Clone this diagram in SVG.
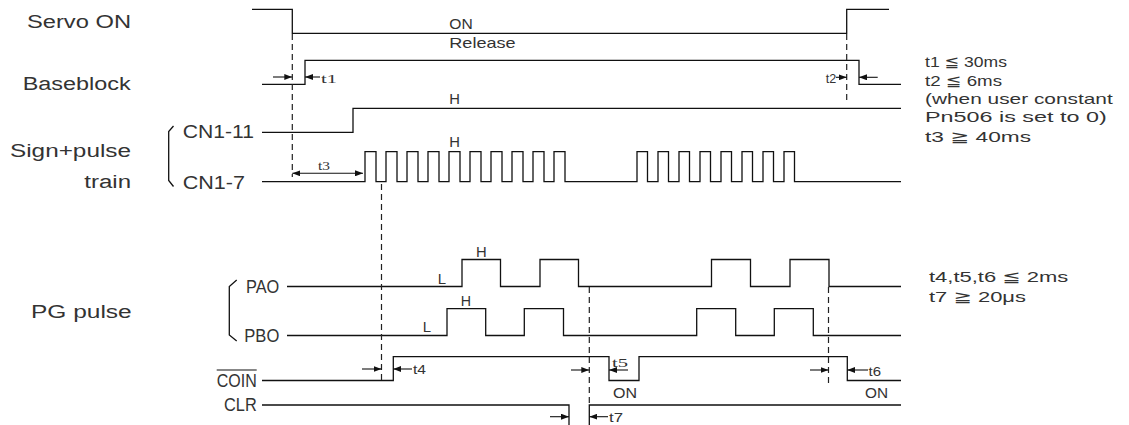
<svg xmlns="http://www.w3.org/2000/svg" width="1129" height="425" viewBox="0 0 1129 425">
<style>
.w{fill:none;stroke:#111;stroke-width:1.3}
.d{fill:none;stroke:#222;stroke-width:1.2;stroke-dasharray:6,4}
.a{fill:none;stroke:#111;stroke-width:1.1}
.lb{font-family:"Liberation Sans","DejaVu Sans",sans-serif;font-size:18px;fill:#333}
.sm{font-family:"Liberation Sans","DejaVu Sans",sans-serif;font-size:15px;fill:#333}
.tl{font-family:"Liberation Serif","DejaVu Serif",serif;font-size:13px;fill:#333}
.ts{font-family:"Liberation Sans","DejaVu Sans",sans-serif;font-size:13px;fill:#333}
</style>
<defs>
<marker id="ah" viewBox="0 0 8 6" refX="8" refY="3" markerWidth="8" markerHeight="6" markerUnits="userSpaceOnUse" orient="auto">
<path d="M0,0 L8,3 L0,6 Z" fill="#111"/>
</marker>
<marker id="ahs" viewBox="0 0 8 6" refX="0" refY="3" markerWidth="8" markerHeight="6" markerUnits="userSpaceOnUse" orient="auto">
<path d="M8,0 L0,3 L8,6 Z" fill="#111"/>
</marker>
</defs>
<rect width="1129" height="425" fill="#fff"/>

<g id="labels">
<text class="lb" x="27" y="28" textLength="104" lengthAdjust="spacingAndGlyphs">Servo ON</text>
<text class="lb" x="22.7" y="90" textLength="108" lengthAdjust="spacingAndGlyphs">Baseblock</text>
<text class="lb" x="10" y="156.5" textLength="121" lengthAdjust="spacingAndGlyphs">Sign+pulse</text>
<text class="lb" x="84.3" y="188" textLength="46.7" lengthAdjust="spacingAndGlyphs">train</text>
<text class="lb" x="31" y="317.5" textLength="100.7" lengthAdjust="spacingAndGlyphs">PG pulse</text>
</g>

<g id="servo-on">
<path class="w" d="M252,9.3 H292.3 V33.3 H846.7 V9.3 H889"/>
<text class="sm" x="449.3" y="29.3" textLength="23.4" lengthAdjust="spacingAndGlyphs">ON</text>
</g>

<g id="baseblock">
<path class="w" d="M262,84.3 H305 V60.3 H859 V84.3 H901"/>
<text class="sm" x="449.3" y="48" textLength="66.4" lengthAdjust="spacingAndGlyphs">Release</text>
</g>

<g id="cn1-11">
<path class="w" d="M173.5,126 L168.7,131.5 V180.5 L173.5,186.5"/>
<text class="lb" x="182.7" y="138.3" textLength="71.3" lengthAdjust="spacingAndGlyphs">CN1-11</text>
<path class="w" d="M262,132.3 H353 V108.3 H901"/>
<text class="sm" x="449.3" y="104.3" textLength="10.7" lengthAdjust="spacingAndGlyphs">H</text>
</g>

<g id="cn1-7">
<text class="lb" x="182.7" y="189" textLength="62.3" lengthAdjust="spacingAndGlyphs">CN1-7</text>
<path class="w" d="M262,181.7 H365 V151.7 H376 V181.7 H386 V151.7 H397 V181.7 H407 V151.7 H418 V181.7 H428 V151.7 H439 V181.7 H449 V151.7 H460 V181.7 H470 V151.7 H481 V181.7 H491 V151.7 H502 V181.7 H512 V151.7 H523 V181.7 H533 V151.7 H544 V181.7 H554 V151.7 H565 V181.7 H637 V151.7 H647.5 V181.7 H658 V151.7 H668.5 V181.7 H679 V151.7 H689.5 V181.7 H700 V151.7 H710.5 V181.7 H721 V151.7 H731.5 V181.7 H742 V151.7 H752.5 V181.7 H763 V151.7 H773.5 V181.7 H784 V151.7 H794.5 V181.7 H901"/>
<text class="sm" x="449.3" y="146.7" textLength="10.7" lengthAdjust="spacingAndGlyphs">H</text>
</g>

<g id="pao">
<path class="w" d="M236.7,280 L229.3,286.5 V335 L236.7,341"/>
<text class="lb" x="246" y="293.3" textLength="33.3" lengthAdjust="spacingAndGlyphs">PAO</text>
<path class="w" d="M287,286.5 H462 V259.5 H500.5 V286.5 H540 V259.5 H578.5 V286.5 H711.5 V259.5 H750.5 V286.5 H790 V259.5 H829 V286.5 H901"/>
<text class="sm" x="476" y="256.7" textLength="10.7" lengthAdjust="spacingAndGlyphs">H</text>
<text class="sm" x="437.7" y="284.3" textLength="8.3" lengthAdjust="spacingAndGlyphs">L</text>
</g>

<g id="pbo">
<text class="lb" x="244.3" y="341.7" textLength="35" lengthAdjust="spacingAndGlyphs">PBO</text>
<path class="w" d="M287,335.5 H447 V308.7 H485.7 V335.5 H524.3 V308.7 H563.5 V335.5 H696.7 V308.7 H735.7 V335.5 H774.3 V308.7 H813.3 V335.5 H901"/>
<text class="sm" x="460.7" y="305.7" textLength="10.3" lengthAdjust="spacingAndGlyphs">H</text>
<text class="sm" x="422.7" y="332.3" textLength="8.3" lengthAdjust="spacingAndGlyphs">L</text>
</g>

<g id="coin">
<text class="lb" x="216.7" y="386.7" textLength="40" lengthAdjust="spacingAndGlyphs">COIN</text>
<line class="a" x1="216.7" y1="370" x2="256.7" y2="370"/>
<path class="w" d="M262,380.5 H393.3 V356.7 H609 V380.5 H639 V356.7 H847.3 V380.5 H901"/>
<text class="sm" x="613" y="398" textLength="24" lengthAdjust="spacingAndGlyphs">ON</text>
<text class="sm" x="865" y="398" textLength="23" lengthAdjust="spacingAndGlyphs">ON</text>
</g>

<g id="clr">
<text class="lb" x="224" y="410.7" textLength="32.7" lengthAdjust="spacingAndGlyphs">CLR</text>
<path class="w" d="M262,405 H569 V426 M589.3,426 V405 H901"/>
</g>

<g id="connectors">
<line class="d" x1="292.3" y1="34" x2="292.3" y2="177"/>
<line class="d" x1="846.7" y1="34" x2="846.7" y2="100"/>
<line class="d" x1="381.5" y1="184" x2="381.5" y2="382"/>
<line class="d" x1="589.3" y1="287" x2="589.3" y2="405"/>
<line class="d" x1="828.5" y1="287" x2="828.5" y2="383"/>

<line class="a" x1="273" y1="77" x2="292.3" y2="77" marker-end="url(#ah)"/>
<line class="a" x1="320" y1="77" x2="305" y2="77" marker-end="url(#ah)"/>
<line class="a" x1="836" y1="77.3" x2="846.7" y2="77.3" marker-end="url(#ah)"/>
<line class="a" x1="877.7" y1="77.3" x2="859" y2="77.3" marker-end="url(#ah)"/>
<line class="a" x1="292.3" y1="173.3" x2="363" y2="173.3" marker-start="url(#ahs)" marker-end="url(#ah)"/>
<line class="a" x1="362" y1="369" x2="381.5" y2="369" marker-end="url(#ah)"/>
<line class="a" x1="412" y1="369" x2="393.3" y2="369" marker-end="url(#ah)"/>
<line class="a" x1="571" y1="370" x2="589.3" y2="370" marker-end="url(#ah)"/>
<line class="a" x1="628" y1="370" x2="609" y2="370" marker-end="url(#ah)"/>
<line class="a" x1="810" y1="370" x2="828.5" y2="370" marker-end="url(#ah)"/>
<line class="a" x1="868" y1="370" x2="847.3" y2="370" marker-end="url(#ah)"/>
<line class="a" x1="550" y1="416.7" x2="569" y2="416.7" marker-end="url(#ah)"/>
<line class="a" x1="608" y1="416.7" x2="589.3" y2="416.7" marker-end="url(#ah)"/>
</g>

<g id="time-labels">
<text class="tl" x="321" y="83" textLength="16" lengthAdjust="spacingAndGlyphs">t1</text>
<text class="ts" x="825.7" y="83.3" textLength="10.5" lengthAdjust="spacingAndGlyphs">t2</text>
<text class="tl" x="318" y="170" textLength="12" lengthAdjust="spacingAndGlyphs">t3</text>
<text class="ts" x="413" y="374" textLength="13" lengthAdjust="spacingAndGlyphs">t4</text>
<text class="tl" x="612" y="367" textLength="16" lengthAdjust="spacingAndGlyphs">t5</text>
<text class="ts" x="868.5" y="376" textLength="12.5" lengthAdjust="spacingAndGlyphs">t6</text>
<text class="ts" x="609" y="422" textLength="14" lengthAdjust="spacingAndGlyphs">t7</text>
</g>

<g id="notes">
<text class="sm" x="925" y="66.7" textLength="82" lengthAdjust="spacingAndGlyphs">t1 ≦ 30ms</text>
<text class="sm" x="925" y="86" textLength="77" lengthAdjust="spacingAndGlyphs">t2 ≦ 6ms</text>
<text class="sm" x="925" y="104" textLength="187.7" lengthAdjust="spacingAndGlyphs">(when user constant</text>
<text class="sm" x="925" y="122" textLength="181.7" lengthAdjust="spacingAndGlyphs">Pn506 is set to 0)</text>
<text class="sm" x="925" y="141.7" textLength="106" lengthAdjust="spacingAndGlyphs">t3 ≧ 40ms</text>
<text class="sm" x="929" y="281.5" textLength="139.3" lengthAdjust="spacingAndGlyphs">t4,t5,t6 ≦ 2ms</text>
<text class="sm" x="929" y="301.5" textLength="97" lengthAdjust="spacingAndGlyphs">t7 ≧ 20μs</text>
</g>
</svg>
